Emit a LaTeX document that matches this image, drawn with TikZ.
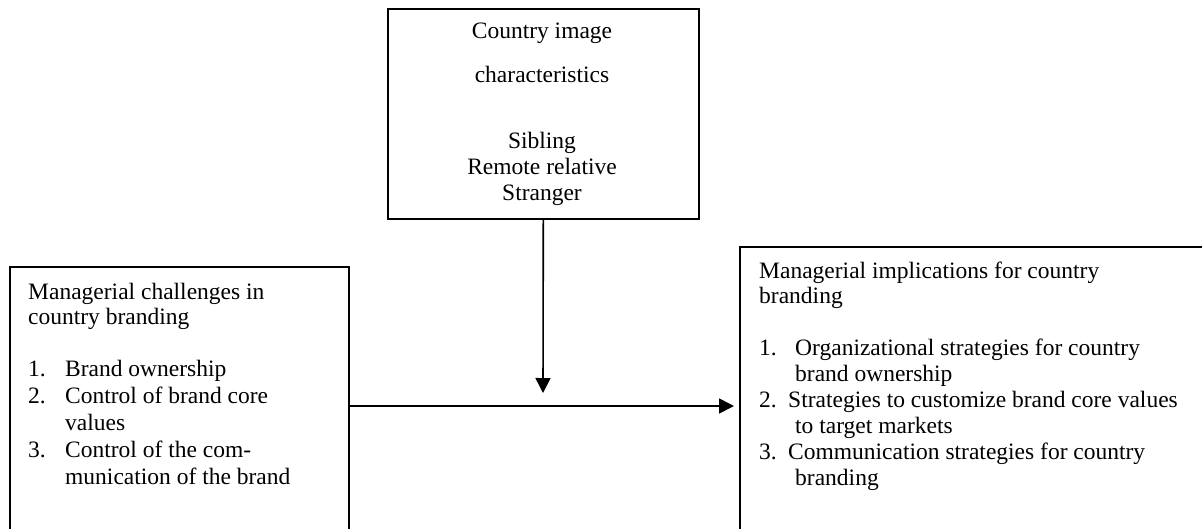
\documentclass[tikz,border=0pt]{standalone}
\usepackage{fontspec}
\setmainfont{Liberation Serif}
\usetikzlibrary{arrows.meta}
\begin{document}
\begin{tikzpicture}[x=1pt,y=-1pt,
  frame/.style={draw, line width=1.6pt, inner sep=0pt, anchor=north west},
  txt/.style={font=\fontsize{23.5}{#1}\selectfont, inner sep=0pt},
  flow/.style={line width=1.6pt, -{Triangle[length=15pt,width=15pt]}}]
\clip (0,0) rectangle (1202,528);
\fill[white] (0,0) rectangle (1202,528);

% boxes
\node[frame, minimum width=311pt, minimum height=210pt] (image) at (387,8) {};
\node[frame, minimum width=339pt, minimum height=290pt] (chal) at (9,266) {};
\node[frame, minimum width=500pt, minimum height=310pt] (impl) at (739,246) {};

% box texts (the base anchor sits on the last line)
\node[txt=26, align=center, anchor=base] (imagetext) at (542,200)
  {Country image\\[18pt]characteristics\\[40pt]Sibling\\Remote relative\\Stranger};

\node[txt=27, align=left, anchor=base west] (chaltext) at (28,484)
  {Managerial challenges in\\[-2pt]country branding\\[25pt]
   \makebox[37pt][l]{1.}Brand ownership\\
   \makebox[37pt][l]{2.}Control of brand core\\
   \hspace*{37pt}values\\
   \makebox[37pt][l]{3.}Control of the com-\\
   \hspace*{37pt}munication of the brand};

\node[txt=26, align=left, anchor=base west] (impltext) at (759,485)
  {Managerial implications for country\\[-1pt]branding\\[26pt]
   \makebox[36pt][l]{1.}Organizational strategies for country\\
   \hspace*{36pt}brand ownership\\
   \makebox[29pt][l]{2.}Strategies to customize brand core values\\
   \hspace*{36pt}to target markets\\
   \makebox[29pt][l]{3.}Communication strategies for country\\
   \hspace*{36pt}branding};

% connectors
\coordinate (drop) at (543,393);
\coordinate (mid) at (543,406);
\draw[flow] (image.south) -- (drop);
\draw[flow, shorten >=5pt] (chal.east |- mid) -- (impl.west |- mid);
\end{tikzpicture}
\end{document}
